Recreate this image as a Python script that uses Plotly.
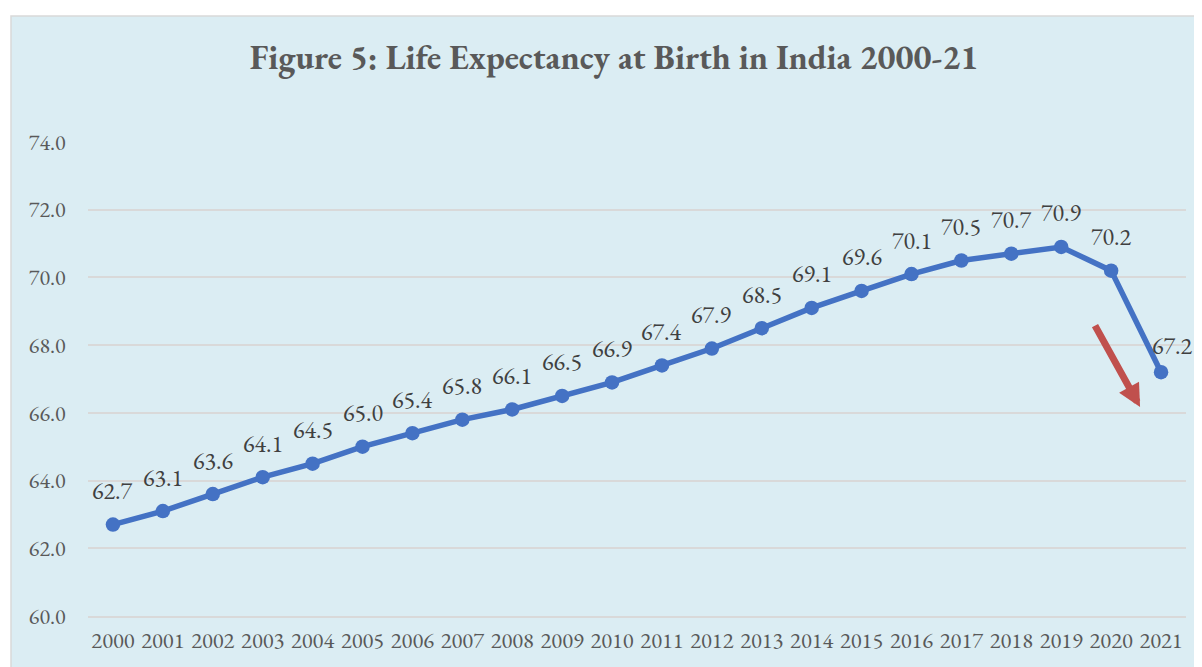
import plotly.graph_objects as go

years = [str(y) for y in range(2000, 2022)]
life_exp = [62.7, 63.1, 63.6, 64.1, 64.5, 65.0, 65.4, 65.8, 66.1, 66.5, 66.9,
            67.4, 67.9, 68.5, 69.1, 69.6, 70.1, 70.5, 70.7, 70.9, 70.2, 67.2]
y_ticks = [60, 62, 64, 66, 68, 70, 72, 74]
title_text = "Figure 5: Life Expectancy at Birth in India 2000-21"

FONT = "Garamond, 'EB Garamond', 'Liberation Serif', 'DejaVu Serif', serif"
OFF = 8  # default page body margin
W, H = 1202 - OFF, 667 - OFF
ML, MR, MT, MB = 88 - OFF, 16, 142 - OFF, 51
pw = W - ML - MR
ph = H - MT - MB

xi = list(range(len(years)))

fig = go.Figure()
fig.add_trace(go.Scatter(
    x=xi, y=life_exp, mode="lines+markers",
    line=dict(color="#4472C4", width=5.5),
    marker=dict(color="#4472C4", size=14.5),
    customdata=years, hovertemplate="%{customdata}: %{y:.1f}<extra></extra>",
    showlegend=False,
))

annotations = []
for i, v in zip(xi, life_exp):
    last = i == len(xi) - 1
    annotations.append(dict(
        x=i, y=v, xref="x", yref="y", text=f"{v:.1f}", showarrow=False,
        xshift=11 if last else 0, yshift=27 if last else 34,
        xanchor="center", yanchor="middle",
        font=dict(family=FONT, size=24, color="#404040"),
    ))

# red downward arrow
annotations.append(dict(
    x=20.58, y=66.17, ax=19.66, ay=68.62, xref="x", yref="y", axref="x", ayref="y",
    text="", showarrow=True, arrowhead=2, arrowsize=0.65, arrowwidth=7,
    arrowcolor="#C0504D",
))

# chart area background rectangle (in paper coords)
x0 = (11 - OFF - ML) / pw
x1 = (1215 - ML) / pw
y1 = (H - MB - (16 - OFF)) / ph
y0 = (H - MB - 690) / ph

fig.update_layout(
    width=W, height=H,
    margin=dict(l=ML, r=MR, t=MT, b=MB),
    paper_bgcolor="white",
    plot_bgcolor="rgba(0,0,0,0)",
    title=dict(text=f"<b>{title_text}</b>", x=(614 - OFF) / W, xref="container", xanchor="center",
               y=1 - (57 - OFF) / H, yref="container", yanchor="middle",
               font=dict(family=FONT, size=34, color="#595959")),
    shapes=[dict(type="rect", xref="paper", yref="paper", x0=x0, x1=x1, y0=y0, y1=y1,
                 fillcolor="#DBEDF3", line=dict(color="#D9D9D9", width=1.5), layer="below")],
    annotations=annotations,
    xaxis=dict(range=[-0.5, len(xi) - 0.5], tickvals=xi, ticktext=years,
               showgrid=False, showline=True, linecolor="#D9D9D9", linewidth=1.5,
               ticks="outside", ticklen=3, tickcolor="rgba(0,0,0,0)", tickangle=0,
               tickfont=dict(family=FONT, size=22.5, color="#595959"), zeroline=False),
    yaxis=dict(range=[60, 74], tickvals=y_ticks, ticktext=[f"{t:.1f}" for t in y_ticks],
               showgrid=True, gridcolor="#D9D9D9", gridwidth=1.5, zeroline=False,
               ticks="outside", ticklen=17, tickcolor="rgba(0,0,0,0)",
               tickfont=dict(family=FONT, size=22, color="#595959")),
)

fig.write_html("out.html")
